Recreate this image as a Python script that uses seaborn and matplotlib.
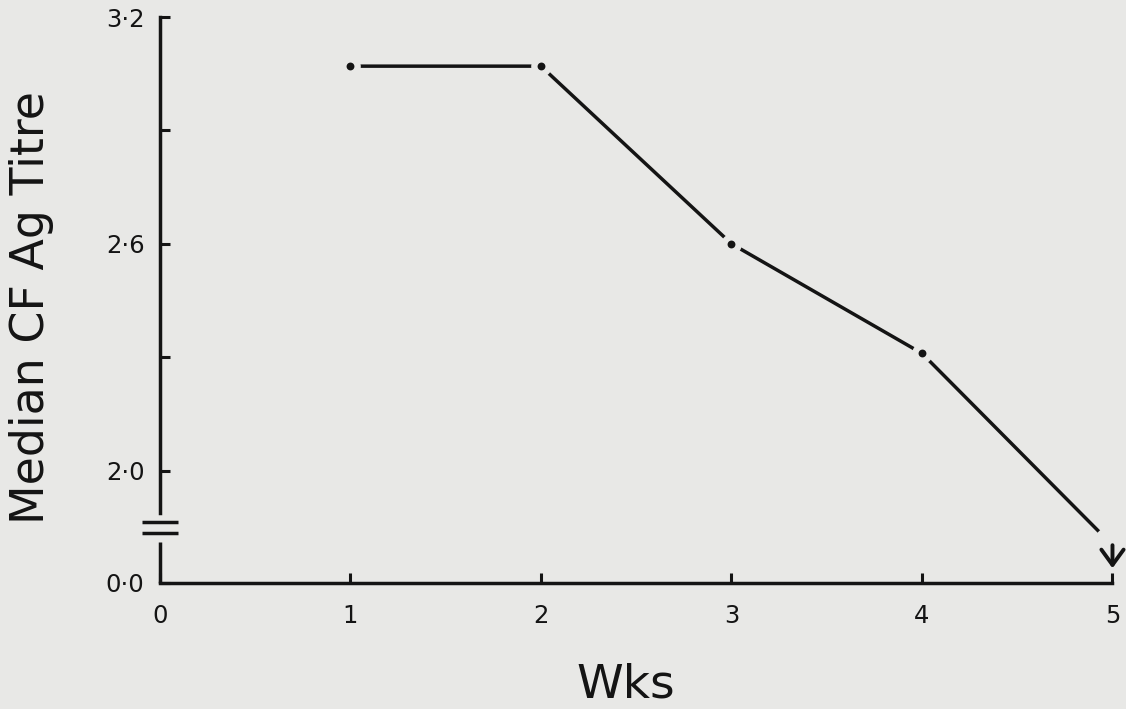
import numpy as np
import pandas as pd
import matplotlib.pyplot as plt
import seaborn as sns

# ===== data
weeks = [1, 2, 3, 4, 5]
titre = [3.07, 3.07, 2.60, 2.31, 0.67]  # week 5 falls below the axis break
arrow_tip = 0.26
x_ticks = [0, 1, 2, 3, 4, 5]
y_ticks = [0.0, 2.0, 2.6, 3.2]
y_tick_labels = ["0·0", "2·0", "2·6", "3·2"]
y_minor = [2.3, 2.9]

background_color = "#e8e8e6"
ink = "#141414"

# 0-2 is squashed into a short stub under the break
squash = 0.1485


def fwd(y):
    y = np.asarray(y, dtype=float)
    return np.where(y < 2.0, 2.0 - (2.0 - y) * squash, y)


def inv(v):
    v = np.asarray(v, dtype=float)
    return np.where(v < 2.0, 2.0 - (2.0 - v) / squash, v)


df = pd.DataFrame({"week": weeks, "titre": titre})

sns.set_theme(style="ticks")
plt.rcParams["font.family"] = ["DejaVu Sans"]

fig = plt.figure(figsize=(11.26, 7.09), dpi=100)
fig.set_facecolor(background_color)
ax = fig.add_axes([0.142, 0.178, 0.846, 0.798])
ax.set_facecolor(background_color)
ax.set_yscale("function", functions=(fwd, inv))

sns.lineplot(data=df, x="week", y="titre", color=ink, linewidth=2.5,
             ax=ax, zorder=2, clip_on=False)
# halos give the little gaps around each dot
sns.scatterplot(data=df.iloc[:-1], x="week", y="titre", s=220, color=background_color,
                linewidth=0, ax=ax, zorder=3, clip_on=False)
sns.scatterplot(data=df.iloc[-1:], x="week", y="titre", s=800, color=background_color,
                linewidth=0, ax=ax, zorder=3, clip_on=False)
sns.scatterplot(data=df.iloc[:-1], x="week", y="titre", s=32, color=ink,
                linewidth=0, ax=ax, zorder=4, clip_on=False)
ax.annotate("", xy=(weeks[-1], arrow_tip), xytext=(weeks[-1], titre[-1]),
            arrowprops=dict(arrowstyle="->,head_length=0.55,head_width=0.4",
                            color=ink, lw=2.8, shrinkA=0, shrinkB=0, mutation_scale=20),
            annotation_clip=False, zorder=5)

ax.set_xlim(0, 5)
ax.set_ylim(0, 3.2)
ax.set_xticks(x_ticks, labels=[str(w) for w in x_ticks])
ax.set_yticks(y_ticks, labels=y_tick_labels)
ax.set_yticks(y_minor, minor=True)
ax.set_xlabel("")
ax.set_ylabel("")

ax.spines[["top", "right"]].set_visible(False)
for side in ["left", "bottom"]:
    ax.spines[side].set_linewidth(2.5)
    ax.spines[side].set_color(ink)
ax.spines["left"].set_bounds(1.25, 3.2)

# lower stub of the y axis plus the break marks
ax.plot([0, 0], [0, 0.73], color=ink, lw=2.5, clip_on=False, solid_capstyle="butt")
for yb in [1.08, 0.89]:
    ax.plot([-0.095, 0.095], [yb, yb], color=ink, lw=2.5, clip_on=False,
            solid_capstyle="butt")

ax.tick_params(which="both", direction="in", length=7, width=2.2, colors=ink)
ax.tick_params(axis="x", labelsize=17.5, pad=15, labelcolor=ink)
ax.tick_params(axis="y", labelsize=17.5, pad=11, labelcolor=ink)

fig.text(32 / 1126, 1 - 308 / 709, "Median CF Ag Titre", rotation=90,
         ha="center", va="center", fontsize=33, color=ink)
fig.text(626 / 1126, 1 - 685 / 709, "Wks", ha="center", va="center",
         fontsize=34, color=ink)

fig.savefig("out.png", dpi=100, facecolor=background_color)
